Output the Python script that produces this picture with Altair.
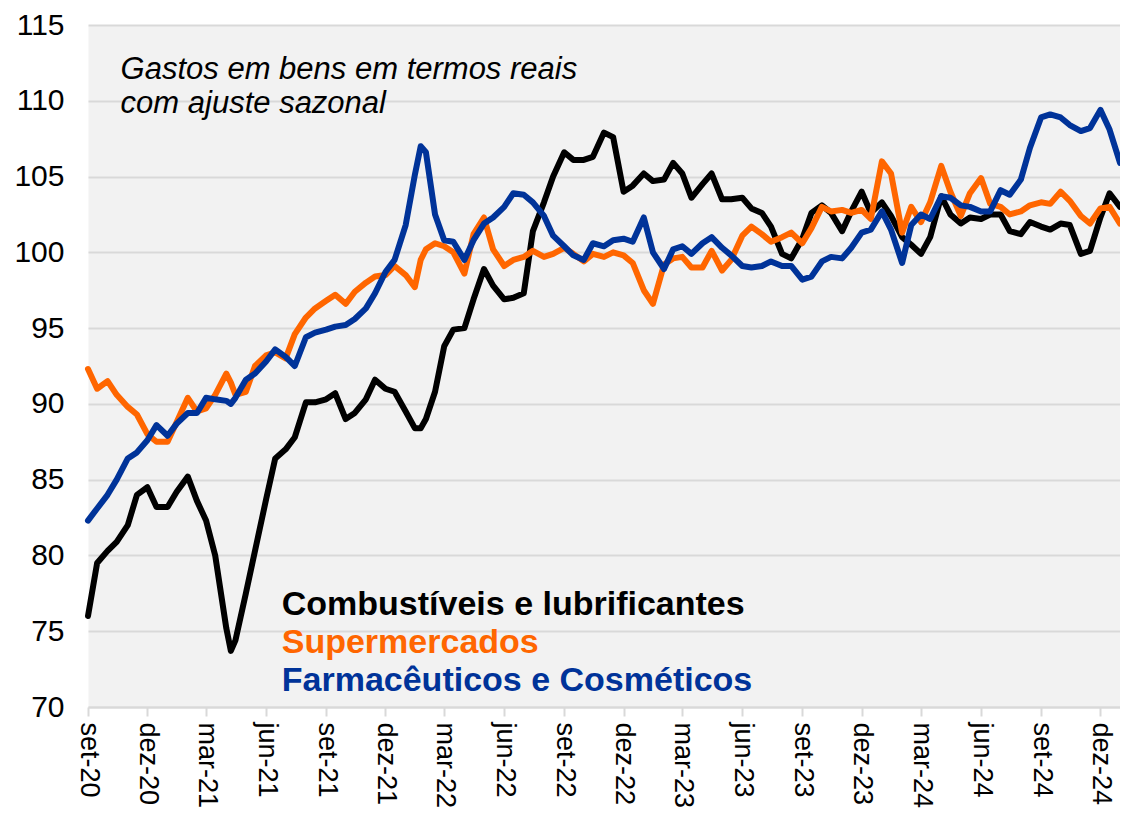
import altair as alt
import pandas as pd

# ---------------- data ----------------
DATES = [
    "2020-09-01", "2020-09-15", "2020-10-01", "2020-10-15", "2020-11-01", "2020-11-15",
    "2020-12-01", "2020-12-15", "2021-01-01", "2021-01-15", "2021-02-01", "2021-02-15",
    "2021-03-01", "2021-03-15", "2021-04-01", "2021-04-08", "2021-04-15", "2021-05-01",
    "2021-05-15", "2021-06-01", "2021-06-15", "2021-07-01", "2021-07-15", "2021-08-01",
    "2021-08-15", "2021-09-01", "2021-09-15", "2021-10-01", "2021-10-15", "2021-11-01",
    "2021-11-15", "2021-12-01", "2021-12-15", "2022-01-01", "2022-01-15", "2022-01-24",
    "2022-02-01", "2022-02-15", "2022-03-01", "2022-03-15", "2022-04-01", "2022-04-15",
    "2022-05-01", "2022-05-15", "2022-06-01", "2022-06-15", "2022-07-01", "2022-07-15",
    "2022-08-01", "2022-08-15", "2022-09-01", "2022-09-15", "2022-10-01", "2022-10-15",
    "2022-11-01", "2022-11-15", "2022-12-01", "2022-12-15", "2023-01-01", "2023-01-15",
    "2023-02-01", "2023-02-15", "2023-03-01", "2023-03-15", "2023-04-01", "2023-04-15",
    "2023-05-01", "2023-05-15", "2023-06-01", "2023-06-15", "2023-07-01", "2023-07-15",
    "2023-08-01", "2023-08-15", "2023-09-01", "2023-09-15", "2023-10-01", "2023-10-15",
    "2023-11-01", "2023-11-15", "2023-12-01", "2023-12-15", "2024-01-01", "2024-01-15",
    "2024-02-01", "2024-02-15", "2024-03-01", "2024-03-15", "2024-04-01", "2024-04-15",
    "2024-05-01", "2024-05-15", "2024-06-01", "2024-06-15", "2024-07-01", "2024-07-15",
    "2024-08-01", "2024-08-15", "2024-09-01", "2024-09-15", "2024-10-01", "2024-10-15",
    "2024-11-01", "2024-11-15", "2024-12-01", "2024-12-15", "2024-12-31",
]

COMBUSTIVEIS = [
    76.0, 79.5, 80.3, 80.9, 82.0, 84.0, 84.5, 83.2, 83.2, 84.2, 85.2, 83.6,
    82.3, 80.0, 75.2, 73.7, 74.4, 77.5, 80.3, 83.7, 86.4, 87.0, 87.8, 90.1,
    90.1, 90.3, 90.7, 89.0, 89.4, 90.3, 91.6, 91.0, 90.8, 89.5, 88.4, 88.4,
    89.0, 90.8, 93.8, 94.9, 95.0, 96.9, 98.9, 97.8, 96.9, 97.0, 97.3, 101.4,
    103.3, 105.0, 106.6, 106.1, 106.1, 106.3, 107.9, 107.6, 104.0, 104.4, 105.2, 104.7,
    104.8, 105.9, 105.2, 103.6, 104.5, 105.2, 103.5, 103.5, 103.6, 102.9, 102.6, 101.7,
    99.9, 99.6, 100.9, 102.6, 103.1, 102.6, 101.4, 102.7, 104.0, 102.6, 103.3, 102.4,
    101.0, 100.5, 99.9, 101.0, 103.7, 102.5, 101.9, 102.3, 102.2, 102.5, 102.5, 101.4,
    101.2, 102.0, 101.7, 101.5, 101.9, 101.8, 99.9, 100.1, 102.3, 103.9, 103.0,
]

SUPERMERCADOS = [
    92.3, 91.0, 91.5, 90.6, 89.8, 89.3, 88.0, 87.5, 87.5, 88.8, 90.4, 89.5,
    89.7, 90.6, 92.0, 91.4, 90.6, 90.8, 92.5, 93.2, 93.4, 93.0, 94.6, 95.7,
    96.3, 96.8, 97.2, 96.6, 97.4, 98.0, 98.4, 98.5, 99.1, 98.5, 97.7, 99.5,
    100.2, 100.6, 100.4, 100.0, 98.6, 101.2, 102.3, 100.2, 99.1, 99.5, 99.7, 100.1,
    99.7, 99.9, 100.3, 99.9, 99.4, 99.9, 99.7, 100.0, 99.8, 99.3, 97.5, 96.6,
    99.2, 99.6, 99.7, 99.0, 99.0, 100.1, 98.8, 99.5, 101.1, 101.7, 101.2, 100.7,
    101.0, 101.3, 100.6, 101.6, 103.0, 102.7, 102.8, 102.6, 102.8, 102.2, 106.0, 105.2,
    101.3, 103.0, 102.0, 103.3, 105.7, 104.0, 102.4, 103.9, 104.9, 103.2, 103.0, 102.5,
    102.7, 103.1, 103.3, 103.2, 104.0, 103.4, 102.4, 101.9, 102.9, 103.0, 101.9,
]

FARMACEUTICOS = [
    82.3, 83.1, 84.0, 85.0, 86.4, 86.8, 87.6, 88.6, 87.9, 88.7, 89.4, 89.4,
    90.4, 90.3, 90.2, 90.0, 90.4, 91.6, 92.0, 92.8, 93.6, 93.1, 92.5, 94.4,
    94.7, 94.9, 95.1, 95.2, 95.6, 96.3, 97.3, 98.7, 99.5, 101.8, 105.1, 107.0,
    106.6, 102.5, 100.8, 100.7, 99.5, 100.8, 101.9, 102.3, 103.0, 103.9, 103.8, 103.3,
    102.4, 101.1, 100.4, 99.8, 99.5, 100.6, 100.4, 100.8, 100.9, 100.7, 102.3, 100.0,
    98.9, 100.2, 100.4, 99.9, 100.6, 101.0, 100.3, 99.8, 99.1, 99.0, 99.1, 99.4,
    99.1, 99.1, 98.2, 98.4, 99.4, 99.7, 99.6, 100.3, 101.3, 101.5, 102.7, 101.5,
    99.3, 101.8, 102.5, 102.2, 103.7, 103.6, 103.1, 103.0, 102.7, 102.7, 104.1, 103.8,
    104.8, 106.9, 108.9, 109.1, 108.9, 108.4, 108.0, 108.2, 109.4, 108.1, 105.9,
]

SERIES_NAMES = ["Combustíveis e lubrificantes", "Supermercados", "Farmacêuticos e Cosméticos"]
SERIES_VALUES = [COMBUSTIVEIS, SUPERMERCADOS, FARMACEUTICOS]
SERIES_COLORS = ["#000000", "#FF6600", "#003399"]

# x-axis tick months (every quarter) and Portuguese month labels
TICK_MONTHS = [(2020, 9), (2020, 12), (2021, 3), (2021, 6), (2021, 9), (2021, 12),
               (2022, 3), (2022, 6), (2022, 9), (2022, 12), (2023, 3), (2023, 6),
               (2023, 9), (2023, 12), (2024, 3), (2024, 6), (2024, 9), (2024, 12)]
MONTH_ABBR = ["jan", "fev", "mar", "abr", "mai", "jun", "jul", "ago", "set", "out", "nov", "dez"]
Y_TICKS = [70, 75, 80, 85, 90, 95, 100, 105, 110, 115]

# annotation texts (anchored in data space)
NOTE_LINES = ["Gastos em bens em termos reais", "com ajuste sazonal"]
NOTE_DATE = "2020-10-21"
NOTE_VALUES = [112.0, 109.8]
LEGEND_DATE = "2021-06-25"
LEGEND_VALUES = [76.7, 74.2, 71.7]

FONT = "Liberation Sans, Arial, Helvetica, sans-serif"

# ---------------- chart ----------------
x_scale = alt.Scale(
    type="utc",
    domain=[alt.DateTime(year=2020, month=9, date=1, utc=True),
            alt.DateTime(year=2024, month=12, date=31, utc=True)],
)
y_scale = alt.Scale(domain=[70, 115], nice=False, zero=False)

month_list = "[" + ",".join("'" + m + "'" for m in MONTH_ABBR) + "]"
x_axis = alt.Axis(
    values=[alt.DateTime(year=y, month=m, date=1, utc=True) for (y, m) in TICK_MONTHS],
    labelExpr=month_list + "[utcmonth(datum.value)] + '-' + utcFormat(datum.value, '%y')",
    labelAngle=90,
    labelFontSize=27,
    labelFont=FONT,
    labelColor="#000000",
    labelPadding=6,
    labelOverlap=False,
    domainColor="#D9D9D9",
    domainWidth=2,
    tickColor="#D9D9D9",
    tickWidth=2,
    tickSize=9,
    grid=False,
    title=None,
)
y_axis = alt.Axis(
    values=Y_TICKS,
    labelFontSize=30,
    labelFont=FONT,
    labelColor="#000000",
    labelPadding=24,
    domain=False,
    ticks=False,
    grid=True,
    gridColor="#D9D9D9",
    gridWidth=2,
    title=None,
)

X_ENC = alt.X("date:T", scale=x_scale, axis=x_axis)
Y_ENC = alt.Y("value:Q", scale=y_scale, axis=y_axis)

layers = []
for name, vals, col in zip(SERIES_NAMES, SERIES_VALUES, SERIES_COLORS):
    df = pd.DataFrame({"date": DATES, "value": vals, "series": name})
    line = alt.Chart(df).mark_line(
        color=col, strokeWidth=6, strokeJoin="round", strokeCap="round"
    ).encode(x=X_ENC, y=Y_ENC)
    layers.append(line)

note_df = pd.DataFrame({"date": [NOTE_DATE] * len(NOTE_LINES), "value": NOTE_VALUES, "text": NOTE_LINES})
note = alt.Chart(note_df).mark_text(
    align="left", baseline="middle", fontSize=31, fontStyle="italic", font=FONT, color="#000000"
).encode(x=X_ENC, y=Y_ENC, text="text:N")

leg_df = pd.DataFrame({"date": [LEGEND_DATE] * 3, "value": LEGEND_VALUES,
                       "text": SERIES_NAMES, "color": SERIES_COLORS})
legend = alt.Chart(leg_df).mark_text(
    align="left", baseline="middle", fontSize=34, fontWeight="bold", font=FONT
).encode(
    x=X_ENC,
    y=Y_ENC,
    text="text:N",
    color=alt.Color("color:N", scale=None),
)

chart = alt.layer(*layers, note, legend).properties(
    width=1032,
    height=682,
    autosize=alt.AutoSizeParams(type="none"),
    padding={"left": 80, "top": 17, "right": 0, "bottom": 110},
).configure_view(
    fill="#F2F2F2",
    stroke="transparent",
)

chart.save("out.html", embed_options={"renderer": "svg", "actions": False})
